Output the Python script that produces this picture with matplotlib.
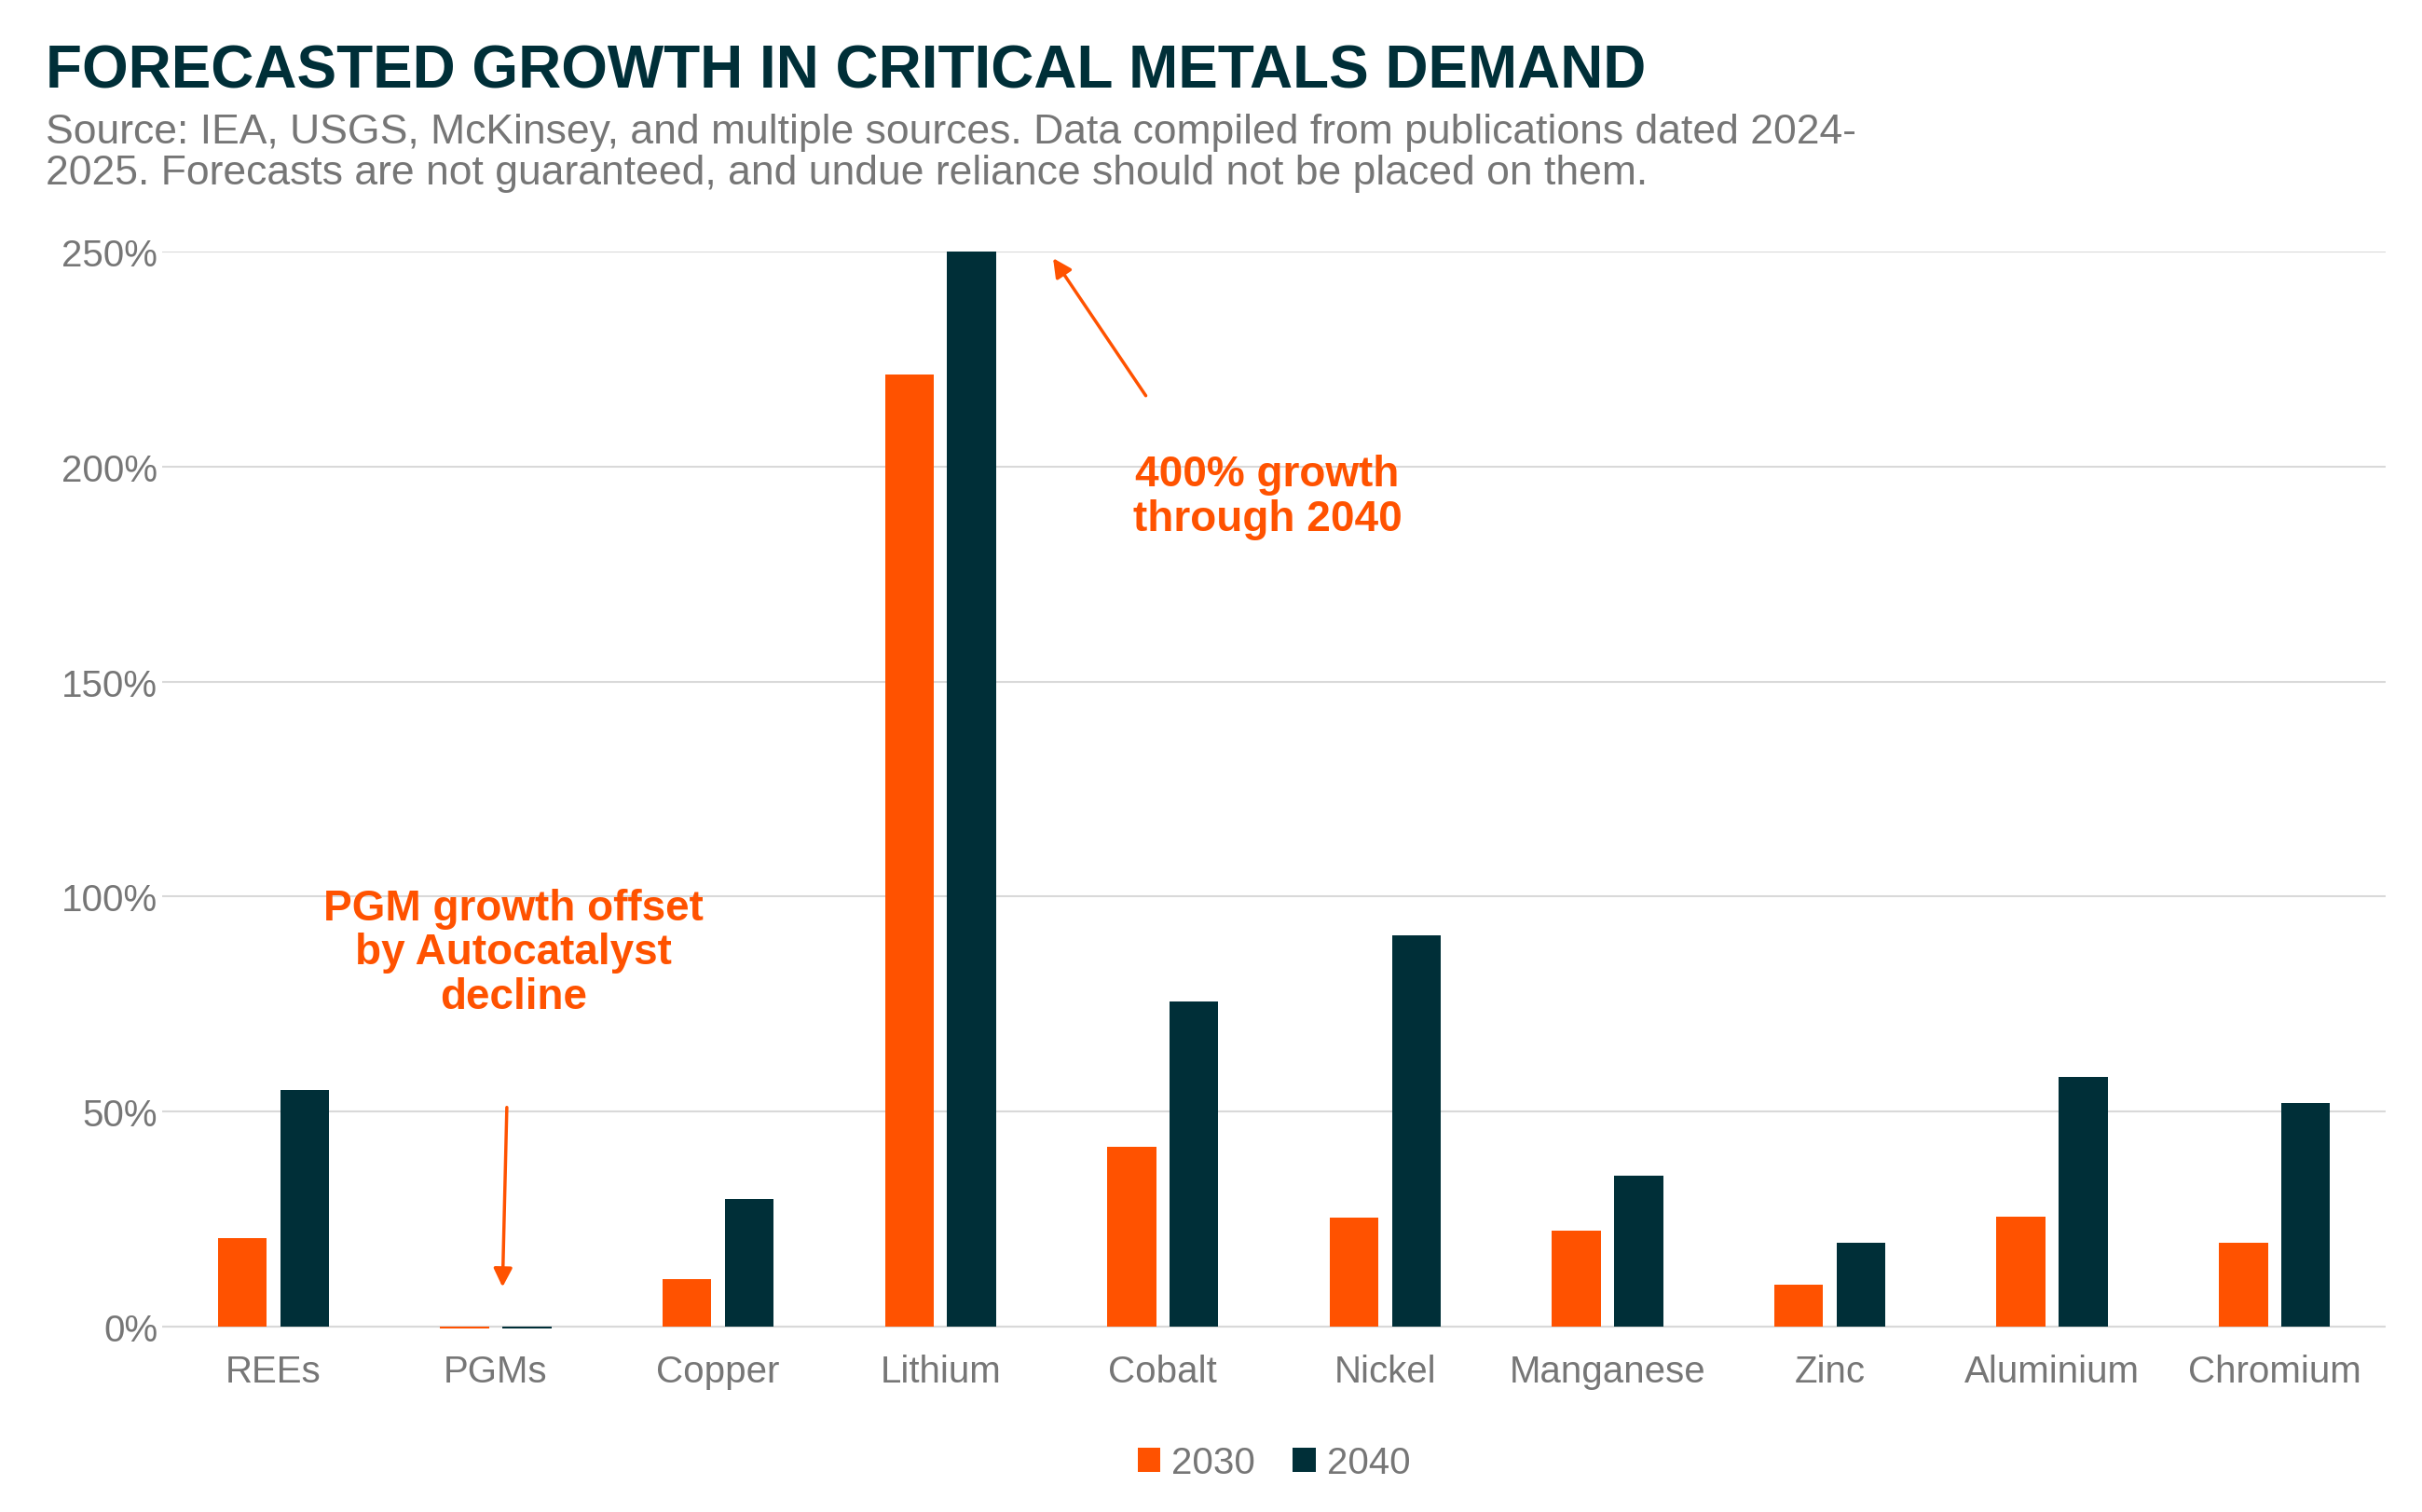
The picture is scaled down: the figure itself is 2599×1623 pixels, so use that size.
import numpy as np
import matplotlib.pyplot as plt

plt.rcParams['font.family'] = ['Liberation Sans', 'DejaVu Sans']

metals = ["REEs", "PGMs", "Copper", "Lithium", "Cobalt", "Nickel",
          "Manganese", "Zinc", "Aluminium", "Chromium"]
growth_2030 = [20.5, -0.5, 11, 221.5, 41.7, 25.2, 22.3, 9.7, 25.5, 19.5]
growth_2040 = [55, -0.5, 29.5, 400, 75.5, 91, 35, 19.4, 58, 52]

orange = '#FF5200'
dark = '#002F38'
grey = '#767676'

fig = plt.figure(figsize=(25.99, 16.24), dpi=100)
ax = fig.add_axes([0.067, 0.12, 0.918, 0.713])

x = np.arange(len(metals))
ax.bar(x - 0.14, growth_2030, width=0.22, color=orange, label='2030')
ax.bar(x + 0.14, growth_2040, width=0.22, color=dark, label='2040')

ax.set_ylim(-1, 250)
ax.set_xlim(-0.5, len(metals) - 0.5)
ax.set_yticks(np.arange(0, 251, 50))
ax.set_yticklabels([f"{v}%" for v in range(0, 251, 50)])
ax.set_xticks(x)
ax.set_xticklabels(metals)
ax.tick_params(axis='both', colors=grey, labelsize=29, length=0)
ax.tick_params(axis='x', pad=18)
ax.grid(axis='y', color='#D9D9D9', linewidth=1.5)
ax.set_axisbelow(True)
for s in ['top', 'right', 'left', 'bottom']:
    ax.spines[s].set_visible(False)
ax.axhline(0, color='#D9D9D9', lw=1.5, zorder=0)

# annotations
ax.annotate("", xy=(3.5, 249), xytext=(3.93, 216), annotation_clip=False,
            arrowprops=dict(arrowstyle='-|>', color=orange, lw=2.5, mutation_scale=30))
ax.text(4.47, 193, "400% growth\nthrough 2040", color=orange, fontsize=33,
        fontweight='bold', ha='center', va='center', linespacing=1.1)
ax.annotate("", xy=(1.03, 8.5), xytext=(1.05, 51.5),
            arrowprops=dict(arrowstyle='-|>', color=orange, lw=2.5, mutation_scale=30))
ax.text(1.08, 87, "PGM growth offset\nby Autocatalyst\ndecline", color=orange, fontsize=33,
        fontweight='bold', ha='center', va='center', linespacing=1.1)

ax.legend(loc='upper center', bbox_to_anchor=(0.5, -0.075), ncol=2, frameon=False,
          fontsize=29, labelcolor=grey, handlelength=0.6, handleheight=0.6,
          handletextpad=0.3, columnspacing=1.0)

fig.text(0.019, 0.952, "FORECASTED GROWTH IN CRITICAL METALS DEMAND", color=dark,
         fontsize=46, fontweight='bold', va='center')
fig.text(0.019, 0.925, "Source: IEA, USGS, McKinsey, and multiple sources. Data compiled from publications dated 2024-\n"
         "2025. Forecasts are not guaranteed, and undue reliance should not be placed on them.",
         color=grey, fontsize=32, va='top', linespacing=1.1)

fig.savefig('out.png', dpi=100)
